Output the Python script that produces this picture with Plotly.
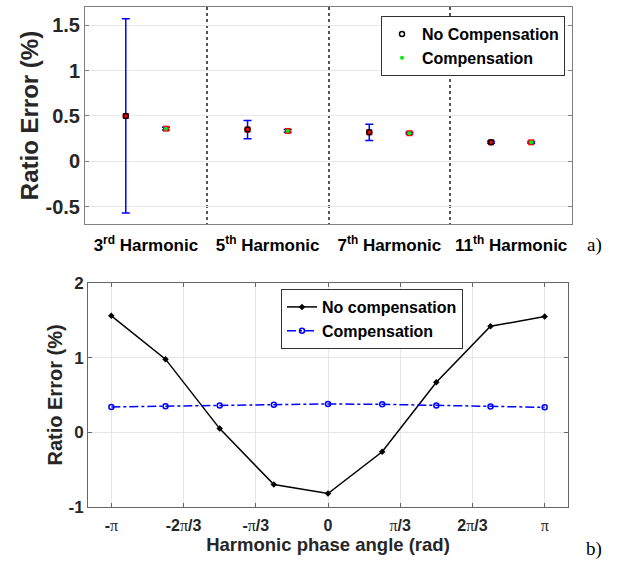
import numpy as np
import plotly.graph_objects as go

# ---------------- data: panel a) ----------------
harmonic_labels = ["3<sup>rd</sup> Harmonic", "5<sup>th</sup> Harmonic",
                   "7<sup>th</sup> Harmonic", "11<sup>th</sup> Harmonic"]
harmonic_pos = [1, 2, 3, 4]
nocomp_mean = [0.50, 0.35, 0.32, 0.21]
nocomp_err = [1.07, 0.10, 0.09, 0.012]
comp_mean = [0.36, 0.335, 0.31, 0.21]
comp_err = [0.015, 0.015, 0.01, 0.01]
a_ytick_vals = [-0.5, 0, 0.5, 1, 1.5]
a_ytick_text = ["-0.5", "0", "0.5", "1", "1.5"]
a_dividers = [1.5, 2.5, 3.5]

# ---------------- data: panel b) ----------------
phase_frac = [-1, -0.75, -0.5, -0.25, 0, 0.25, 0.5, 0.75, 1]   # multiples of pi
nocomp_phase = [1.56, 0.98, 0.05, -0.70, -0.82, -0.26, 0.67, 1.42, 1.55]
comp_phase = [0.34, 0.35, 0.36, 0.37, 0.38, 0.375, 0.36, 0.345, 0.335]
PI = "<span style='font-family:Liberation Serif;font-weight:normal'>π</span>"
b_xtick_frac = [-1, -2/3, -1/3, 0, 1/3, 2/3, 1]
b_xtick_text = ["-" + PI, "-2" + PI + "/3", "-" + PI + "/3", "0",
                PI + "/3", "2" + PI + "/3", PI]

phase_x = np.pi * np.array(phase_frac)
b_xtick_vals = list(np.pi * np.array(b_xtick_frac))

FONT = "Liberation Sans, Arial, sans-serif"
BLUE = "#0000ff"

fig = go.Figure()

off = 0.165
x_nc = [p - off for p in harmonic_pos]
x_c = [p + off for p in harmonic_pos]

# error bars + red markers
fig.add_trace(go.Scatter(
    x=x_nc, y=nocomp_mean, mode="markers",
    marker=dict(symbol="square", size=6, color="#ff0000"),
    error_y=dict(type="data", array=nocomp_err, color=BLUE, thickness=1.5, width=4),
    showlegend=False, xaxis="x", yaxis="y", hoverinfo="skip"))
fig.add_trace(go.Scatter(
    x=x_c, y=comp_mean, mode="markers",
    marker=dict(symbol="square", size=6, color="#ff0000"),
    error_y=dict(type="data", array=comp_err, color=BLUE, thickness=1.5, width=4),
    showlegend=False, xaxis="x", yaxis="y", hoverinfo="skip"))
# legend markers
fig.add_trace(go.Scatter(
    x=x_nc, y=nocomp_mean, mode="markers", name="No Compensation",
    marker=dict(symbol="circle-open", size=5, color="#000000", line=dict(width=1.5)),
    legend="legend", xaxis="x", yaxis="y"))
fig.add_trace(go.Scatter(
    x=x_c, y=comp_mean, mode="markers", name="Compensation",
    marker=dict(symbol="circle", size=4, color="#00ee00"),
    legend="legend", xaxis="x", yaxis="y"))

# panel b
fig.add_trace(go.Scatter(
    x=phase_x, y=nocomp_phase, mode="lines+markers", name="No compensation",
    line=dict(color="#000000", width=1.5),
    marker=dict(symbol="diamond", size=5, color="#000000"),
    legend="legend2", xaxis="x2", yaxis="y2"))
fig.add_trace(go.Scatter(
    x=phase_x, y=comp_phase, mode="lines+markers", name="Compensation",
    line=dict(color=BLUE, width=1.5, dash="dashdot"),
    marker=dict(symbol="circle-open", size=5, color=BLUE, line=dict(width=1.5)),
    legend="legend2", xaxis="x2", yaxis="y2"))

W, H = 628, 561
def px_x(v): return v / W
def px_y(v): return 1 - v / H

fig.update_layout(
    width=W, height=H,
    margin=dict(l=0, r=0, t=0, b=0, autoexpand=False),
    paper_bgcolor="white", plot_bgcolor="white",
    font=dict(family=FONT, color="#262626"),
    xaxis=dict(
        domain=[px_x(85), px_x(572)], anchor="y", range=[0.5, 4.5], automargin=False,
        tickmode="array", tickvals=harmonic_pos, ticktext=harmonic_labels,
        tickfont=dict(size=17, weight="bold", color="#000"),
        ticks="", showgrid=False, zeroline=False, ticklabelstandoff=6,
        showline=True, linecolor="#808080", linewidth=1, mirror=True,
        minor=dict(tickmode="array", tickvals=a_dividers, showgrid=True,
                   gridcolor="#555555", griddash="dot", gridwidth=1.5, ticks=""),
    ),
    yaxis=dict(
        domain=[px_y(224), px_y(7)], anchor="x", range=[-0.69, 1.7], automargin=False,
        tickmode="array", tickvals=a_ytick_vals, ticktext=a_ytick_text,
        tickfont=dict(size=20, weight="bold", color="#262626"),
        ticks="inside", ticklen=4, tickcolor="#808080",
        showgrid=True, gridcolor="#e8e8e8", zeroline=False,
        showline=True, linecolor="#808080", linewidth=1, mirror="ticks",
        title=dict(text="Ratio Error (%)", font=dict(size=24, weight="bold", color="#262626"),
                   standoff=0),
    ),
    xaxis2=dict(
        domain=[px_x(88), px_x(568)], anchor="y2", range=[-3.48, 3.48], automargin=False,
        tickmode="array", tickvals=b_xtick_vals, ticktext=b_xtick_text,
        tickfont=dict(size=16, weight="bold", color="#262626"),
        ticks="inside", ticklen=4, tickcolor="#666666", ticklabelstandoff=4,
        showgrid=True, gridcolor="#e6e6e6", zeroline=False,
        showline=True, linecolor="#666666", linewidth=1, mirror="ticks",
        title=dict(text="Harmonic phase angle (rad)",
                   font=dict(size=18.5, weight="bold", color="#262626"), standoff=4),
    ),
    yaxis2=dict(
        domain=[px_y(507), px_y(283)], anchor="x2", range=[-1, 2], automargin=False,
        tickmode="array", tickvals=[-1, 0, 1, 2], ticktext=["-1", "0", "1", "2"],
        tickfont=dict(size=17, weight="bold", color="#262626"),
        ticks="inside", ticklen=4, tickcolor="#666666",
        showgrid=True, gridcolor="#e6e6e6", zeroline=False,
        showline=True, linecolor="#666666", linewidth=1, mirror="ticks",
        title=dict(text="Ratio Error (%)", font=dict(size=20, weight="bold", color="#262626"),
                   standoff=0),
    ),
    legend=dict(
        x=px_x(565), y=px_y(16), xanchor="right", yanchor="top",
        bgcolor="white", bordercolor="#333333", borderwidth=1,
        font=dict(size=16, weight="bold", color="#000"),
        itemwidth=30, tracegroupgap=0,
    ),
    legend2=dict(
        x=px_x(463), y=px_y(289), xanchor="right", yanchor="top",
        bgcolor="white", bordercolor="#333333", borderwidth=1,
        font=dict(size=16, weight="bold", color="#000"),
        itemwidth=30, tracegroupgap=0,
    ),
    annotations=[
        dict(text="a)", x=px_x(594), y=px_y(245), xref="paper", yref="paper",
             xanchor="center", yanchor="middle", showarrow=False,
             font=dict(family="Liberation Serif, Times New Roman, serif", size=19, color="#000")),
        dict(text="b)", x=px_x(594), y=px_y(549), xref="paper", yref="paper",
             xanchor="center", yanchor="middle", showarrow=False,
             font=dict(family="Liberation Serif, Times New Roman, serif", size=19, color="#000")),
    ],
)

fig.write_html("out.html", config={"displayModeBar": False},
               post_script="document.body.style.margin='0';")
